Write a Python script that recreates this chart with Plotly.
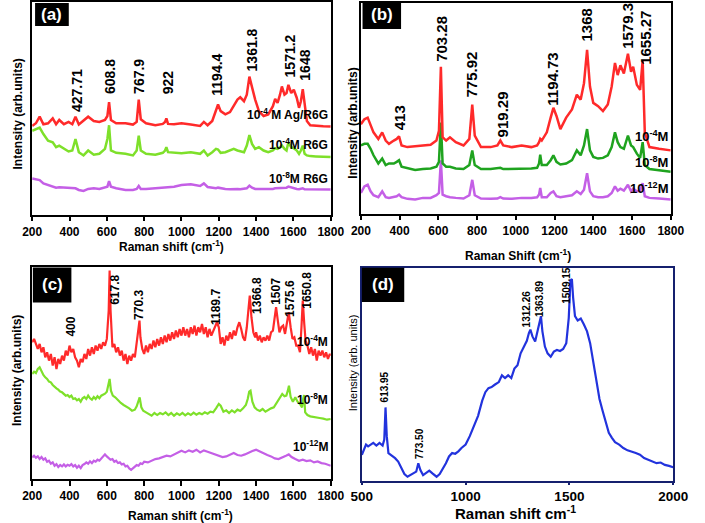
import plotly.graph_objects as go

W, H = 705, 523

# ---------------- Panel (a) ----------------
a_shift = [200,220,240,260,285,310,328,345,370,395,
           415,432,450,475,500,530,560,590,603,612,
           622,650,700,740,760,771,782,810,860,900,
           912,919,928,960,1000,1050,1100,1120,1140,1165,
           1185,1196,1210,1235,1260,1280,1300,1315,1335,1350,
           1364,1378,1395,1415,1440,1465,1490,1502,1515,1528,
           1538,1552,1563,1573,1588,1602,1618,1630,1640,1650,
           1660,1672,1690,1720,1760,1800]
a_ag_r6g = [270,278,298,275,278,293,275,288,275,282,
            275,298,274,285,298,285,282,288,300,342,
            288,278,278,274,282,350,290,278,272,276,
            282,293,276,275,278,274,270,282,272,285,
            320,335,315,305,312,332,350,357,345,365,
            420,388,350,315,300,305,330,352,340,365,
            390,365,370,395,370,380,355,325,345,382,
            330,285,272,270,269,268]
a_r6g_4 = [255,260,265,245,225,220,205,210,200,192,
           195,230,190,180,195,182,185,200,230,272,
           195,188,185,180,195,240,195,185,182,188,
           195,205,190,188,187,190,185,195,180,190,
           200,198,188,190,195,200,195,192,190,210,
           242,215,200,205,195,190,195,202,200,205,
           210,200,195,220,205,202,195,185,195,210,
           185,180,178,177,176,175]
a_r6g_8 = [110,108,105,95,90,85,82,83,82,82,
           80,80,75,72,78,80,78,84,85,102,
           85,80,75,75,78,87,78,78,80,82,
           82,83,82,85,90,92,87,95,84,82,
           80,82,80,78,77,78,78,77,78,80,
           88,82,78,78,78,77,78,80,80,82,
           82,80,82,85,82,80,78,77,78,80,
           77,77,77,76,77,76]
a_peak_text = ["427.71","608.8","767.9","922","1194.4","1361.8","1571.2","1648"]
a_peak_x = [441,618,773,928,1189,1376,1582,1662]
a_peak_y = [305,360,360,360,355,430,410,400]
a_conc_text = ["10<sup>-4</sup> M Ag/R6G","10<sup>-4</sup>M R6G","10<sup>-8</sup>M R6G"]
a_conc_y = [305,215,110]

# ---------------- Panel (b) ----------------
b_shift = [200,218,235,250,265,290,310,328,345,370,
           385,397,410,440,480,520,560,590,603,613,
           622,640,660,690,730,760,775,788,820,870,
           905,920,935,980,1030,1080,1110,1120,1126,1134,
           1160,1180,1194,1210,1230,1260,1290,1315,1335,1352,
           1368,1383,1400,1425,1450,1475,1495,1512,1526,1540,
           1558,1579,1595,1606,1625,1642,1655,1666,1690,1740,
           1800]
b_4 = [273,288,293,273,248,228,248,223,213,223,
       228,236,208,203,206,208,210,223,253,448,
       233,223,233,218,208,228,333,238,203,203,
       208,223,208,203,208,203,208,218,228,223,
       248,293,323,298,258,293,318,363,348,398,
       500,388,338,328,313,333,388,460,423,453,
       428,488,433,448,393,378,468,248,203,198,
       193]
b_8 = [208,213,213,198,178,153,168,148,153,153,
       158,163,143,138,133,136,138,143,158,278,
       153,143,143,138,136,148,193,148,136,136,
       138,140,136,136,138,138,140,153,180,148,
       148,163,178,158,150,153,163,193,178,208,
       258,193,173,168,170,178,203,248,218,203,
       198,238,208,203,183,170,218,148,136,132,
       128]
b_12 = [63,83,88,68,56,50,68,50,48,50,
        53,58,50,45,43,48,48,56,63,163,
        58,53,50,48,46,56,103,56,46,45,
        46,50,46,45,48,48,50,58,78,50,
        50,63,68,53,50,53,56,68,60,73,
        123,68,53,50,50,53,63,83,70,76,
        70,88,68,76,68,70,93,53,48,46,
        43]
b_peak_text = ["413","703.28","775.92","919.29","1194.73","1368","1579.3","1655.27"]
b_peak_x = [399,615,773,931,1189,1363,1576,1672]
b_peak_y = [248,458,348,228,323,518,498,448]
b_conc_text = ["10<sup>-4</sup>M","10<sup>-8</sup>M","10<sup>-12</sup>M"]
b_conc_y = [238,158,78]

# ---------------- Panel (c) ----------------
c_4 = [(200,410),(210,420),(220,405),(230,390),(240,405),(250,380),(260,395),(270,365),(280,380),(290,355),
       (300,375),(310,340),(320,365),(330,330),(340,360),(350,345),(360,370),(370,355),(380,385),(390,370),
       (400,400),(410,380),(420,390),(430,365),(440,355),(450,335),(460,360),(470,350),(480,375),(490,360),
       (500,390),(510,370),(520,395),(530,375),(540,400),(550,385),(560,405),(570,390),(580,410),(590,400),
       (600,420),(610,505),(615,625),(620,505),(630,395),(640,405),(650,380),(660,395),(670,370),(680,385),
       (690,355),(700,375),(710,345),(720,370),(730,355),(740,375),(750,365),(760,415),(770,470),(775,475),
       (780,425),(790,390),(800,375),(810,400),(820,380),(830,405),(840,390),(850,415),(860,395),(870,420),
       (880,400),(890,425),(900,405),(910,430),(920,410),(930,435),(940,415),(950,440),(960,420),(970,445),
       (980,425),(990,450),(1000,430),(1010,455),(1020,430),(1030,450),(1040,425),(1050,455),(1060,435),(1070,460),
       (1080,430),(1090,455),(1100,440),(1110,465),(1120,435),(1130,455),(1140,425),(1150,450),(1160,430),(1170,445),
       (1180,460),(1190,470),(1200,455),(1210,405),(1220,425),(1230,400),(1240,430),(1250,415),(1260,440),(1270,420),
       (1280,445),(1290,430),(1300,455),(1310,470),(1320,450),(1330,425),(1340,415),(1350,455),(1360,515),(1366,550),
       (1375,485),(1385,440),(1395,425),(1400,440),(1410,415),(1420,430),(1430,410),(1440,425),(1450,415),(1460,430),
       (1470,415),(1480,440),(1490,445),(1500,485),(1507,515),(1515,480),(1525,440),(1535,455),(1545,460),(1555,435),
       (1565,465),(1575,500),(1585,455),(1595,420),(1605,425),(1615,400),(1625,400),(1635,380),(1643,455),(1650,535),
       (1658,465),(1665,415),(1675,400),(1685,375),(1695,395),(1705,370),(1715,390),(1725,355),(1735,385),(1745,370),
       (1755,385),(1765,365),(1775,380),(1785,360),(1795,375),(1800,370)]
c_8 = [(200,315),(210,322),(220,318),(230,330),(240,335),(250,322),(260,312),(270,305),(280,300),(290,292),
       (300,290),(310,282),(320,276),(330,272),(340,268),(350,262),(360,260),(370,255),(380,250),(390,252),
       (400,246),(410,250),(420,240),(430,242),(440,236),(450,240),(460,232),(470,242),(480,246),(490,240),
       (500,250),(510,242),(520,238),(530,246),(540,240),(550,248),(560,242),(570,250),(580,252),(590,256),
       (600,262),(610,290),(615,300),(622,265),(632,250),(645,245),(660,236),(675,228),(690,222),(705,218),
       (720,212),(735,205),(750,208),(760,218),(770,240),(776,245),(785,215),(795,205),(810,200),(825,194),
       (840,190),(855,198),(870,192),(885,198),(900,194),(915,200),(930,192),(945,198),(960,190),(975,197),
       (990,192),(1005,198),(1020,191),(1035,197),(1050,192),(1065,199),(1080,193),(1095,198),(1110,194),(1125,200),
       (1140,196),(1155,202),(1170,200),(1185,212),(1200,225),(1210,220),(1225,202),(1240,206),(1255,198),(1270,206),
       (1285,200),(1300,208),(1315,204),(1330,212),(1345,222),(1355,240),(1363,262),(1370,265),(1380,232),(1392,215),
       (1405,208),(1420,204),(1435,210),(1450,202),(1465,208),(1480,212),(1495,215),(1510,228),(1525,245),(1540,255),
       (1552,248),(1562,250),(1570,265),(1576,280),(1585,246),(1597,232),(1610,245),(1622,232),(1635,225),(1646,215),
       (1652,240),(1657,252),(1663,200),(1675,192),(1690,188),(1705,186),(1720,184),(1740,183),(1760,181),(1780,178),
       (1800,180)]
c_12 = [(200,65),(210,70),(220,64),(230,68),(240,60),(250,66),(260,58),(270,62),(280,52),(290,55),
        (300,46),(310,50),(320,40),(330,45),(340,36),(350,42),(360,38),(370,44),(380,38),(390,43),
        (400,40),(410,45),(420,38),(430,42),(440,34),(450,40),(460,33),(470,42),(480,45),(490,50),
        (500,46),(510,53),(520,48),(530,55),(540,52),(550,58),(560,55),(570,62),(580,66),(590,74),
        (600,68),(610,64),(620,58),(630,60),(640,52),(650,55),(660,48),(670,50),(680,44),(690,46),
        (700,38),(710,40),(720,32),(730,28),(740,33),(750,38),(760,42),(770,40),(780,47),(790,45),
        (800,52),(820,50),(840,56),(860,60),(880,62),(900,66),(920,70),(940,68),(960,74),(980,80),
        (1000,85),(1020,80),(1040,86),(1060,82),(1080,88),(1100,80),(1120,86),(1140,82),(1160,78),(1180,75),
        (1200,70),(1220,66),(1240,68),(1260,74),(1280,78),(1300,72),(1320,70),(1340,74),(1360,80),(1380,84),
        (1400,88),(1420,82),(1440,78),(1460,72),(1480,68),(1500,62),(1520,60),(1540,64),(1560,70),(1575,74),
        (1590,66),(1610,60),(1630,55),(1650,58),(1670,54),(1690,56),(1710,50),(1730,53),(1750,48),(1770,46),
        (1790,42),(1800,40)]
c_peak_text = ["400","617.8","770.3","1189.7","1366.8","1507","1575.6","1650.8"]
c_peak_x = [406,647,776,1189,1404,1507,1585,1671]
c_peak_y = [420,515,470,455,490,515,480,505]
c_conc_text = ["10<sup>-4</sup>M","10<sup>-8</sup>M","10<sup>-12</sup>M"]
c_conc_y = [415,240,100]

# ---------------- Panel (d) ----------------
d_spec = [(500,77),(510,92),(520,107),(530,102),(540,107),(555,112),(570,104),(585,112),(600,104),(608,122),
          (614,217),(620,132),(628,82),(645,74),(660,67),(675,57),(690,40),(705,20),(720,12),(735,17),
          (750,22),(762,27),(772,52),(782,32),(795,17),(810,24),(825,30),(840,22),(860,12),(875,20),
          (890,34),(905,52),(920,72),(935,82),(950,80),(965,87),(980,97),(1000,107),(1020,132),(1040,162),
          (1060,192),(1080,237),(1095,262),(1110,274),(1125,277),(1140,284),(1160,292),(1175,312),(1190,304),(1205,312),
          (1220,304),(1235,332),(1250,342),(1265,377),(1280,397),(1295,414),(1305,437),(1312,447),(1322,427),(1335,412),
          (1348,447),(1356,472),(1363,487),(1370,442),(1382,397),(1395,377),(1410,367),(1425,382),(1440,387),(1455,384),
          (1470,390),(1485,407),(1497,482),(1505,592),(1512,597),(1518,542),(1527,487),(1540,474),(1555,480),(1570,462),
          (1585,442),(1600,407),(1615,352),(1630,297),(1645,242),(1660,207),(1675,172),(1690,142),(1705,127),(1720,114),
          (1740,107),(1760,97),(1780,90),(1800,87),(1820,82),(1840,77),(1860,67),(1880,62),(1900,57),(1920,52),
          (1940,54),(1960,47),(1980,44),(2000,40)]
d_peak_text = ["613.95","773.50","1312.26","1363.89","1509.15"]
d_peak_x = [611,777,1292,1354,1485]
d_peak_y = [227,57,447,477,517]

tick_abc = [200,400,600,800,1000,1200,1400,1600,1800]
tick_d = [500,1000,1500,2000]

RED = '#ff2a2a'
LIME = '#7ee02a'
GREEN = '#1fa31f'
PURPLE = '#c45fe6'
BLUE = '#2233dd'

FONT = 'Arial, Liberation Sans, sans-serif'

fig = go.Figure()

def add_line(x, y, color, ax, w=2.5):
    fig.add_trace(go.Scatter(x=list(x), y=list(y), mode='lines',
                             line=dict(color=color, width=w),
                             xaxis='x' + ax, yaxis='y' + ax,
                             showlegend=False, hoverinfo='skip'))

def unzip(pairs):
    return [p[0] for p in pairs], [p[1] for p in pairs]

add_line(a_shift, a_r6g_8, PURPLE, '')
add_line(a_shift, a_r6g_4, LIME, '')
add_line(a_shift, a_ag_r6g, RED, '')

add_line(b_shift, b_12, PURPLE, '2')
add_line(b_shift, b_8, GREEN, '2')
add_line(b_shift, b_4, RED, '2')

for pairs, col in [(c_12, PURPLE), (c_8, LIME), (c_4, RED)]:
    x, y = unzip(pairs)
    add_line(x, y, col, '3', 2.2)

x, y = unzip(d_spec)
add_line(x, y, BLUE, '4', 2.2)

def px_x(p):
    return p / W

def px_y(p):
    return 1 - p / H

def xax(dom, rng, ticks, anchor, color='black', fs=12, tl=5):
    return dict(domain=dom, range=rng, anchor=anchor, tickvals=ticks,
                ticks='outside', ticklen=tl, tickwidth=1.5, tickcolor=color,
                showline=True, linecolor=color, linewidth=1.5, mirror=True,
                showgrid=False, zeroline=False,
                tickfont=dict(family=FONT, size=fs, color='black', weight='bold'))

def yax(dom, rng, anchor, color='black'):
    return dict(domain=dom, range=rng, anchor=anchor, showticklabels=False, ticks='',
                showline=True, linecolor=color, linewidth=1.5, mirror=True,
                showgrid=False, zeroline=False)

DCOL = '#15206e'
fig.update_layout(
    width=W, height=H, margin=dict(l=0, r=0, t=0, b=0),
    paper_bgcolor='white', plot_bgcolor='white',
    xaxis=xax([px_x(22), px_x(332)], [200, 1800], tick_abc, 'y'),
    yaxis=yax([px_y(214), px_y(1)], [0, 647], 'x'),
    xaxis2=xax([px_x(363.3), px_x(685)], [200, 1800], tick_abc, 'y2'),
    yaxis2=yax([px_y(213), px_y(2)], [0, 643], 'x2'),
    xaxis3=xax([px_x(22), px_x(332)], [200, 1800], tick_abc, 'y3'),
    yaxis3=yax([px_y(479), px_y(266.7)], [0, 635], 'x3'),
    xaxis4=xax([px_x(364.3), px_x(687.5)], [500, 2000], tick_d, 'y4', DCOL, 13.5, 2),
    yaxis4=yax([px_y(480.7), px_y(267.3)], [0, 630], 'x4', DCOL),
)

ann = []

def peak_labels(texts, xs, ys, ax, fs):
    for t, xv, yv in zip(texts, xs, ys):
        ann.append(dict(text=t, x=xv, y=yv, xref='x' + ax, yref='y' + ax,
                        textangle=-90, xanchor='center', yanchor='bottom',
                        showarrow=False,
                        font=dict(family=FONT, size=fs, color='black', weight='bold')))

def conc_labels(texts, ys, ax, fs):
    for t, yv in zip(texts, ys):
        ann.append(dict(text=t, x=1795, y=yv, xref='x' + ax, yref='y' + ax,
                        xanchor='right', yanchor='middle', showarrow=False,
                        font=dict(family=FONT, size=fs, color='black', weight='bold')))

peak_labels(a_peak_text, a_peak_x, a_peak_y, '', 14)
peak_labels(b_peak_text, b_peak_x, b_peak_y, '2', 15)
peak_labels(c_peak_text, c_peak_x, c_peak_y, '3', 12)
peak_labels(d_peak_text, d_peak_x, d_peak_y, '4', 10)
conc_labels(a_conc_text, a_conc_y, '', 12)
conc_labels(b_conc_text, b_conc_y, '2', 13)
conc_labels(c_conc_text, c_conc_y, '3', 12)

def paper_text(t, xp, yp, fs, angle=0, bold=True, color='black'):
    ann.append(dict(text=t, x=px_x(xp), y=px_y(yp), xref='paper', yref='paper',
                    xanchor='center', yanchor='middle', textangle=angle, showarrow=False,
                    font=dict(family=FONT, size=fs, color=color,
                              weight='bold' if bold else 'normal')))

# axis titles
paper_text('Intensity (arb.units)', 7, 113, 12, -90)
paper_text('Intensity (arb.units)', 355, 122, 12, -90)
paper_text('Intensity (arb.units)', 7, 370, 12, -90)
paper_text('Intensity (arb. units)', 355, 362, 11, -90, bold=False)
paper_text('Raman shift (cm<sup>-1</sup>)', 167, 245, 12)
paper_text('Raman Shift (cm<sup>-1</sup>)', 526, 254, 12)
paper_text('Raman shift (cm<sup>-1</sup>)', 176, 515, 12)
paper_text('Raman shift cm<sup>-1</sup>', 524, 512, 15)

# panel letter boxes
shapes = []
boxes = [('(a)', 25, 60, 2, 25), ('(b)', 365, 405, 0, 28),
         ('(c)', 22.7, 62.7, 267, 302), ('(d)', 364.3, 408.3, 267.3, 301.7)]
for t, x0, x1, y0, y1 in boxes:
    shapes.append(dict(type='rect', xref='paper', yref='paper',
                       x0=px_x(x0), x1=px_x(x1), y0=px_y(y1), y1=px_y(y0),
                       fillcolor='black', line=dict(width=0), layer='above'))
    paper_text(t, (x0 + x1) / 2, (y0 + y1) / 2, 17, color='white')

fig.update_layout(annotations=ann, shapes=shapes)
fig.write_html('out.html', config={'displayModeBar': False},
               post_script="document.body.style.margin='0';document.body.style.overflow='hidden';")
